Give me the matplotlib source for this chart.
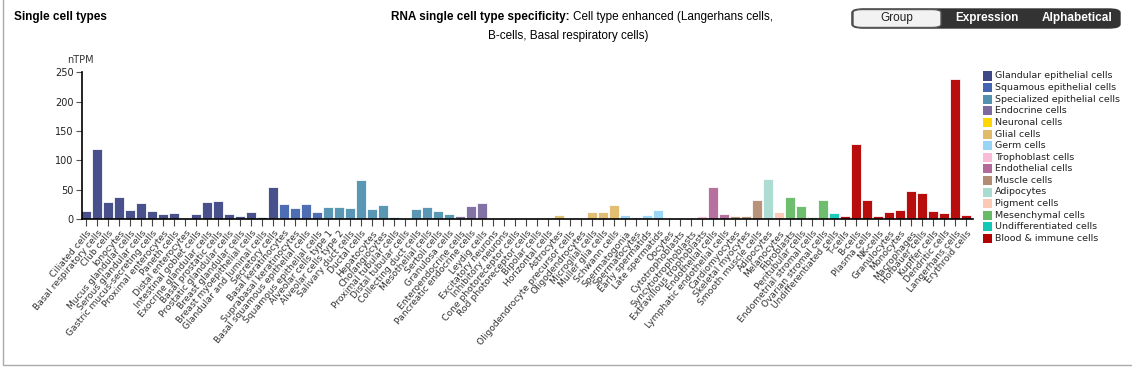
#Imports
import numpy as np
import matplotlib.pyplot as plt
from matplotlib.patches import FancyBboxPatch, Rectangle

#Cell types, grouped as in the reference
cell_types = [
    'Ciliated cells', 'Basal respiratory cells', 'Club cells', 'Ionocytes',
    'Mucus glandular cells', 'Serous glandular cells', 'Gastric mucus-secreting cells',
    'Proximal enterocytes', 'Paneth cells', 'Distal enterocytes', 'Intestinal goblet cells',
    'Exocrine glandular cells', 'Basal prostatic cells', 'Prostatic glandular cells',
    'Breast glandular cells', 'Breast myoepithelial cells', 'Glandular and luminal cells',
    'Secretory cells',
    'Basal keratinocytes', 'Suprabasal keratinocytes', 'Basal squamous epithelial cells',
    'Squamous epithelial cells',
    'Alveolar cells type 1', 'Alveolar cells type 2', 'Salivary duct cells', 'Ductal cells',
    'Hepatocytes', 'Cholangiocytes', 'Proximal tubular cells', 'Distal tubular cells',
    'Collecting duct cells', 'Mesothelial cells', 'Sertoli cells', 'Granulosa cells',
    'Enteroendocrine cells', 'Pancreatic endocrine cells', 'Leydig cells',
    'Excitatory neurons', 'Inhibitory neurons', 'Cone photoreceptor cells',
    'Rod photoreceptor cells', 'Bipolar cells', 'Horizontal cells',
    'Astrocytes', 'Oligodendrocyte precursor cells', 'Oligodendrocytes', 'Microglial cells',
    'Muller glia cells', 'Schwann cells',
    'Spermatogonia', 'Spermatocytes', 'Early spermatids', 'Late spermatids', 'Oocytes',
    'Cytotrophoblasts', 'Syncytiotrophoblasts', 'Extravillous trophoblasts',
    'Endothelial cells', 'Lymphatic endothelial cells',
    'Cardiomyocytes', 'Skeletal myocytes', 'Smooth muscle cells',
    'Adipocytes', 'Melanocytes',
    'Fibroblasts', 'Peritubular cells', 'Endometrial stromal cells', 'Ovarian stromal cells',
    'Undifferentiated cells',
    'T-cells', 'B-cells', 'Plasma cells', 'NK-cells', 'Granulocytes', 'Monocytes',
    'Macrophages', 'Hofbauer cells', 'Kupffer cells', 'Dendritic cells',
    'Langerhans cells', 'Erythroid cells']

ntpm = [13, 120, 28.4, 37.5, 14.8, 27.3, 13.6, 8, 10.2, 1.7, 8.5, 29, 30, 9, 5, 12, 3, 54.5,
        26, 18, 26, 11.4,
        20.5, 20.5, 19, 66, 17.6, 24, 3.4, 0.5, 16.5, 21, 14, 9,
        5.7, 23, 26.7,
        1, 1, 0.3, 0.3, 1, 1,
        7.4, 0.5, 0.5, 12.5, 11.4, 24,
        6.3, 3, 7, 15.3, 2.3,
        0.5, 0.5, 4.5,
        54.5, 8.5,
        4.5, 5, 32,
        68.8, 12.5,
        37.5, 23, 3.4, 32.4,
        9.7,
        5, 127, 32, 5, 12.5, 15.3, 47, 43.8, 13, 9.7, 238, 6.3]

group_names = ['Glandular epithelial cells', 'Squamous epithelial cells',
               'Specialized epithelial cells', 'Endocrine cells', 'Neuronal cells',
               'Glial cells', 'Germ cells', 'Trophoblast cells', 'Endothelial cells',
               'Muscle cells', 'Adipocytes', 'Pigment cells', 'Mesenchymal cells',
               'Undifferentiated cells', 'Blood & immune cells']
group_sizes = [18, 4, 12, 3, 6, 6, 5, 3, 2, 3, 1, 1, 4, 1, 12]
group_colors = ['#3f4886', '#4466b0', '#5192b1', '#7c6aa0', '#ffd700',
                '#e0bb6a', '#97d4f6', '#f8bcd9', '#b3699a', '#b48c72',
                '#a9dbd1', '#fbc9b4', '#67bb67', '#12c9b7', '#b30000']

bar_colors = np.repeat(group_colors, group_sizes)
x = np.arange(len(cell_types))

fig = plt.figure(figsize=(11.32, 3.67), dpi=100)

#Panel border
fig.patches.append(Rectangle((0.0025, 0.005), 1.2, 1.2, transform=fig.transFigure,
                             fill=False, edgecolor='#aaaaaa', linewidth=1))

ax = fig.add_axes([82/1132, (367-219)/367, 891/1132, 146.7/367])
ax.bar(x, ntpm, width=0.9, color=bar_colors, edgecolor='#ffffff', linewidth=0.6,
       alpha=0.95)
ax.set_xlim(-0.39, 80.6)
ax.set_ylim(0, 250)
ax.set_yticks([0, 50, 100, 150, 200, 250])
ax.set_xticks(x)
ax.set_xticklabels(cell_types, rotation=50, ha='right', rotation_mode='anchor',
                   fontsize=6.6, color='#333333')
ax.tick_params(axis='y', labelsize=7, length=4, color='#555555', labelcolor='#222222', pad=2)
ax.tick_params(axis='x', length=5, color='#444444', pad=2)
for s in ['top', 'right']:
    ax.spines[s].set_visible(False)
ax.spines['left'].set_linewidth(1.2)
ax.spines['bottom'].set_linewidth(1.2)
ax.text(-0.017, 1.085, 'nTPM', transform=ax.transAxes, fontsize=7, color='#333333',
        va='center', ha='left')

#Legend
for i, (name, col) in enumerate(zip(group_names, group_colors)):
    yy = 1 - (76 + i*11.6)/367
    fig.patches.append(Rectangle((983/1132, yy - 4.5/367), 9/1132, 9/367,
                                 transform=fig.transFigure, facecolor=col, edgecolor='none'))
    fig.text(995/1132, yy, name, fontsize=6.8, va='center', color='#222222')

#Titles
hfont = 'Liberation Sans'
fig.text(14/1132, 1 - 17/367, 'Single cell types', fontsize=8.5, fontweight='bold',
         va='center', family=hfont)
fig.text(573/1132, 1 - 17/367, 'RNA single cell type specificity: ', fontsize=8.5,
         fontweight='bold', va='center', ha='right', family=hfont)
fig.text(573/1132, 1 - 17/367, 'Cell type enhanced (Langerhans cells,', fontsize=8.5,
         va='center', ha='left', family=hfont)
fig.text(568/1132, 1 - 36/367, 'B-cells, Basal respiratory cells)', fontsize=8.5,
         va='center', ha='center', family=hfont)

#Buttons
fig.patches.append(FancyBboxPatch((852/1132, 1 - 28/367), 268/1132, 19/367,
                                  boxstyle='round,pad=0,rounding_size=0.01',
                                  transform=fig.transFigure, facecolor='#333333',
                                  edgecolor='#333333'))
fig.patches.append(FancyBboxPatch((853/1132, 1 - 27.5/367), 88/1132, 18/367,
                                  boxstyle='round,pad=0,rounding_size=0.008',
                                  transform=fig.transFigure, facecolor='#f2f2f2',
                                  edgecolor='#555555'))
fig.text(897/1132, 1 - 18.5/367, 'Group', fontsize=8.5, ha='center', va='center',
         color='#222222', family=hfont)
fig.text(987/1132, 1 - 18.5/367, 'Expression', fontsize=8.5, ha='center', va='center',
         color='white', fontweight='bold', family=hfont)
fig.text(1077/1132, 1 - 18.5/367, 'Alphabetical', fontsize=8.5, ha='center', va='center',
         color='white', fontweight='bold', family=hfont)

plt.savefig('out.png', dpi=100)
